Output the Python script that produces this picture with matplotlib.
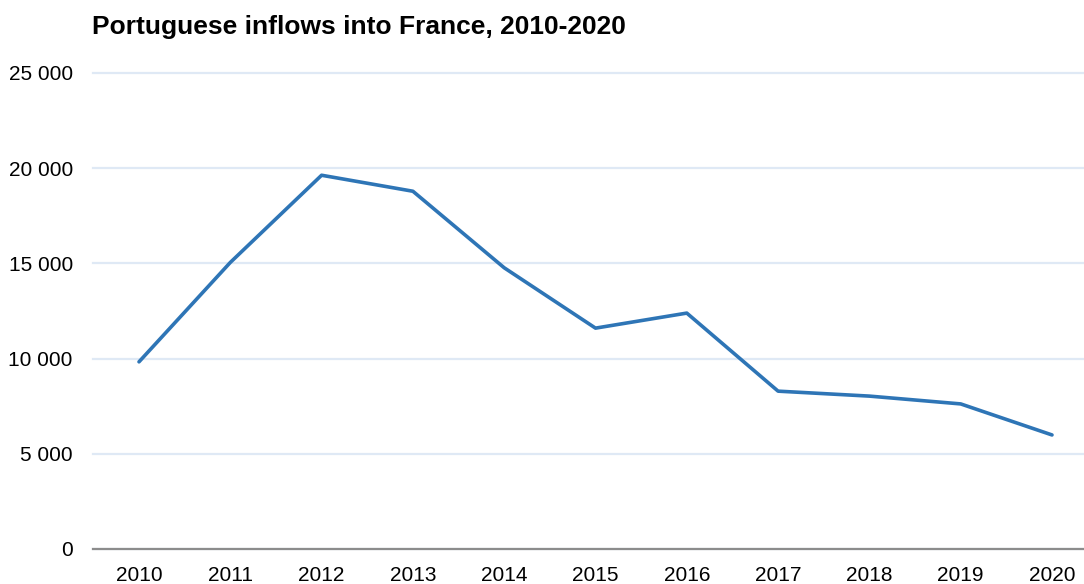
import matplotlib
matplotlib.use("Agg")
import matplotlib.pyplot as plt
from matplotlib.ticker import FuncFormatter

years = [2010, 2011, 2012, 2013, 2014, 2015, 2016, 2017, 2018, 2019, 2020]
inflows = [9830, 15050, 19630, 18790, 14770, 11600, 12390, 8290, 8030, 7620, 5990]
yticks = [0, 5000, 10000, 15000, 20000, 25000]

plt.rcParams['font.family'] = ['Liberation Sans', 'DejaVu Sans']

W, H = 1084, 584
fig = plt.figure(figsize=(W / 100, H / 100), dpi=100)
left, right, top, bottom = 93, 1084, 73, 549
ax = fig.add_axes([left / W, 1 - bottom / H, (right - left) / W, (bottom - top) / H])

ax.plot(years, inflows, color='#2e75b6', linewidth=2.6, solid_capstyle='round', zorder=3)

ax.set_ylim(0, 25000)
ax.set_xlim(2010 - 46 / 91.3, 2020 + 32 / 91.3)
ax.set_yticks(yticks)
ax.set_xticks(years)
ax.yaxis.set_major_formatter(FuncFormatter(lambda v, p: f"{int(v):,}".replace(",", " ")))
ax.grid(axis='y', color='#dfe9f5', linewidth=1.6, zorder=0)
for gl in ax.get_ygridlines():
    gl.set_clip_on(False)
ax.set_axisbelow(True)
for s in ['top', 'right', 'left']:
    ax.spines[s].set_visible(False)
ax.spines['bottom'].set_color('#8c8c8c')
ax.spines['bottom'].set_linewidth(1.6)
ax.spines['bottom'].set_zorder(2)
ax.tick_params(axis='both', length=0, labelsize=15, colors='black')
ax.tick_params(axis='y', pad=14.5)
ax.tick_params(axis='x', pad=12)

fig.text(92 / W, 1 - 27 / H, "Portuguese inflows into France, 2010-2020",
         fontsize=19, fontweight='bold', ha='left', va='center')

fig.savefig("out.png", dpi=100)
